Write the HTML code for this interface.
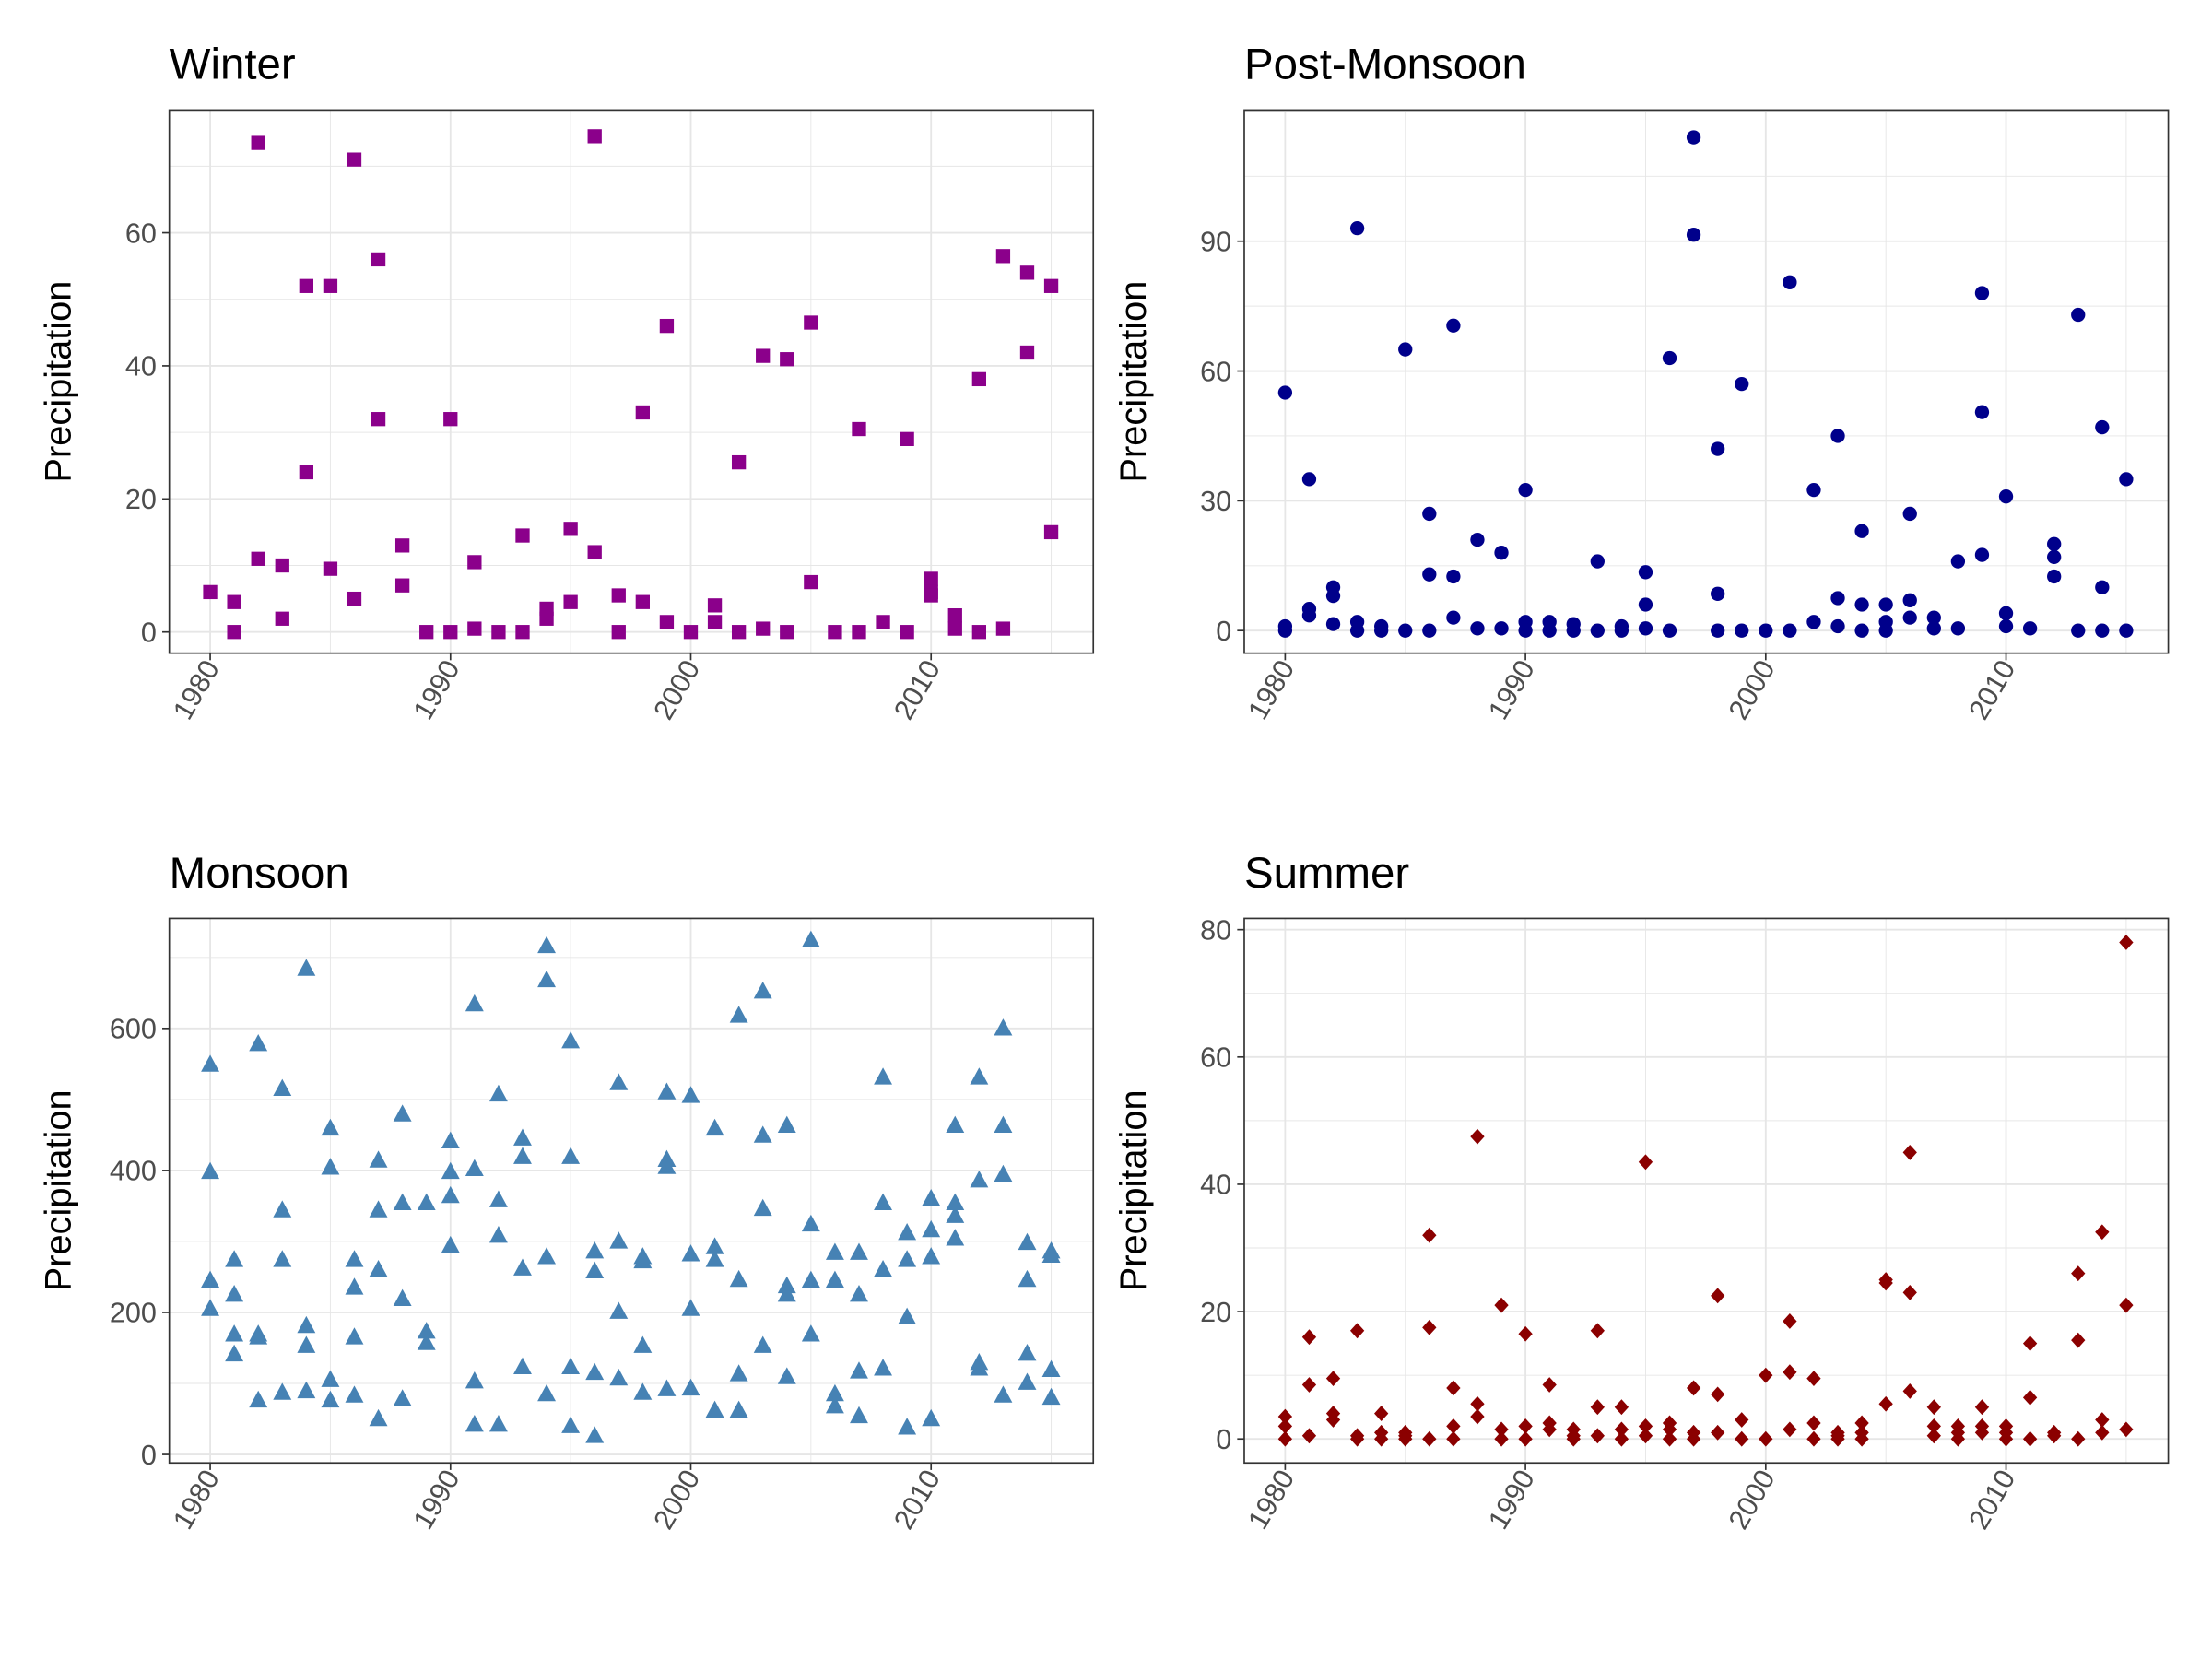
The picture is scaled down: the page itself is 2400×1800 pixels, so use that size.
<!DOCTYPE html>
<html><head><meta charset="utf-8"><style>
html,body{margin:0;padding:0;background:#fff}
svg{display:block}
text{font-family:"Liberation Sans",Arial,sans-serif}
</style></head><body>
<svg id="chart" width="2400" height="1800" viewBox="0 0 1568 1176" preserveAspectRatio="none" xmlns="http://www.w3.org/2000/svg"></svg>
<script>
const years = [];
for (let y = 1980; y <= 2015; y++) years.push(y);

const winterValues = [[6],[4.5,0],[73.5,11],[10,2],[52,24],[52,9.5],[71,5],[56,32],[13,7],[0],[32,0],[10.5,0.5],[0],[14.5,0],[3.5,2],[15.5,4.5],[74.5,12],[5.5,0],[33,4.5],[46,1.5],[0],[4,1.5],[25.5,0],[41.5,0.5],[41,0],[46.5,7.5],[0],[30.5,0],[1.5],[29,0],[8,6,5.5],[2.5,0.5],[38,0],[56.5,0.5],[54,42],[52,15]];
const postMonsoonValues = [[55,1,0],[35,5,3.5],[10,8,1.5],[93,2,0],[1,0],[65,0],[27,13,0],[70.5,12.5,3],[21,0.5],[18,0.5],[32.5,2,0],[2,0],[1.5,0],[16,0],[1,0],[13.5,6,0.5],[63,0],[114,91.5],[42,8.5,0],[57,0],[0],[80.5,0],[32.5,2],[45,7.5,1],[23,6,0],[6,2,0],[27,7,3],[3,0.5],[16,0.5],[78,50.5,17.5],[31,4,1],[0.5],[20,17,12.5],[73,0],[47,10,0],[35,0]];
const monsoonValues = [[549,398,245,205],[274,225,169,141],[578,169,165,76],[515,344,274,87],[684,181,153,89],[459,404,105,76],[274,235,165,83],[414,344,260,50],[479,354,219,78],[354,173,157],[441,398,364,294],[634,402,103,42],[507,358,308,42],[445,419,262,123],[716,668,278,85],[582,419,123,40],[286,258,115,26],[523,300,201,107],[278,272,153,87],[510,415,405,92],[505,282,205,93],[459,292,274,62],[618,246,113,62],[652,449,346,153],[463,237,225,109],[724,324,245,169],[284,245,85,68],[284,225,117,54],[531,354,260,121],[312,274,193,38],[360,316,278,50],[463,354,336,304],[531,386,129,121],[600,463,394,83],[298,246,142,101],[286,280,119,80]];
const summerValues = [[3.5,2,0],[16,8.5,0.5],[9.5,4,3],[17,0.5,0],[4,1,0],[1,0.5,0],[32,17.5,0],[8,2,0],[47.5,5.5,3.5],[21,1.5,0],[16.5,2,0],[8.5,2.5,1.5],[1.5,0.5,0],[17,5,0.5],[5,1.5,0],[43.5,2,0.5],[2.5,1.5,0],[8,1,0],[22.5,7,1],[3,0],[10,0],[18.5,10.5,1.5],[9.5,2.5,0],[1,0.5,0],[2.5,1,0],[25,24.5,5.5],[45,23,7.5],[5,2,0.5],[2,1,0],[5,2,1],[2,1,0],[15,6.5,0],[1,0.5],[26,15.5,0],[32.5,3,1],[78,21,1.5]];

const xTicks = [1980,1990,2000,2010];
const winterTicks = [0,20,40,60];
const postTicks = [0,30,60,90];
const monsoonTicks = [0,200,400,600];
const summerTicks = [0,20,40,60,80];

const NS = "http://www.w3.org/2000/svg";
const svg = document.getElementById('chart');
function mk(tag, attrs, parent){const e=document.createElementNS(NS,tag);for(const k in attrs)e.setAttribute(k,attrs[k]);(parent||svg).appendChild(e);return e;}

const panels = [
 {name:'winter', title:'Winter', x0:120, x1:775, y0:78, y1:463, px0:149, vy0:448, vy1:165, v1:60, ticks:winterTicks, step:20, data:winterValues, shape:'square', color:'#8B008B'},
 {name:'post-monsoon', title:'Post-Monsoon', x0:882, x1:1537, y0:78, y1:463, px0:911, vy0:447, vy1:171, v1:90, ticks:postTicks, step:30, data:postMonsoonValues, shape:'circle', color:'#00008B'},
 {name:'monsoon', title:'Monsoon', x0:120, x1:775, y0:651, y1:1037, px0:149, vy0:1031, vy1:729, v1:600, ticks:monsoonTicks, step:200, data:monsoonValues, shape:'triangle', color:'#4682B4'},
 {name:'summer', title:'Summer', x0:882, x1:1537, y0:651, y1:1037, px0:911, vy0:1020, vy1:659, v1:80, ticks:summerTicks, step:20, data:summerValues, shape:'diamond', color:'#8B0000'}
];

panels.forEach(p=>{
  const g = mk('g',{});
  
  
  const xs = v => p.px0 + (v-1980)*(511/30);
  const ys = v => p.vy0 + v*(p.vy1-p.vy0)/p.v1;
  const grid = mk('g',{},g);
  
  
  const vmin = (p.y1 - p.vy0)/((p.vy1-p.vy0)/p.v1);
  const vmax = (p.y0 - p.vy0)/((p.vy1-p.vy0)/p.v1);
  for (let v = Math.ceil(vmin/(p.step/2))*(p.step/2); v <= vmax; v += p.step/2){
    const major = Math.abs(v/p.step - Math.round(v/p.step))<1e-6;
    const y = ys(v);
    mk('line',{x1:p.x0,x2:p.x1,y1:y,y2:y,stroke:'#e6e6e6','stroke-width':major?1.2:0.6},grid);
  }
  for (let v = 1975; v <= 2020; v += 5){
    const x = xs(v);
    if (x < p.x0 || x > p.x1) continue;
    mk('line',{x1:x,x2:x,y1:p.y0,y2:p.y1,stroke:'#e6e6e6','stroke-width':(v%10===0)?1.2:0.6},grid);
  }
  const border = mk('rect',{x:p.x0,y:p.y0,width:p.x1-p.x0,height:p.y1-p.y0,fill:'none',stroke:'#333','stroke-width':1.1},g);
  
  
  const t = mk('text',{x:p.x0,y:p.y0-22,'font-size':31,fill:'#000'},g);
  t.textContent = p.title;
  
  
  const at = mk('text',{x:0,y:0,'font-size':26,fill:'#000','text-anchor':'middle',transform:`translate(${p.x0-70},${(p.y0+p.y1)/2}) rotate(-90)`},g);
  at.textContent = 'Precipitation';
  
  
  p.ticks.forEach(v=>{
    const y = ys(v);
    mk('line',{x1:p.x0-5,x2:p.x0,y1:y,y2:y,stroke:'#333','stroke-width':1.1},g);
    const tl = mk('text',{x:p.x0-9,y:y+7,'font-size':20,fill:'#4d4d4d','text-anchor':'end'},g);
    tl.textContent = v;
    
    
  });
  xTicks.forEach(v=>{
    const x = xs(v);
    mk('line',{x1:x,x2:x,y1:p.y1,y2:p.y1+5,stroke:'#333','stroke-width':1.1},g);
    const tl = mk('text',{x:0,y:0,'font-size':20,fill:'#4d4d4d','text-anchor':'end',transform:`translate(${x+7},${p.y1+10}) rotate(-60)`},g);
    tl.textContent = v;
    
    
  });
  const pts = mk('g',{fill:p.color},g);
  
  
  p.data.forEach((vals,i)=>{
    vals.forEach(v=>{
      const cx = xs(years[i]), cy = ys(v);
      let e;
      if (p.shape==='square') e = mk('rect',{x:cx-5,y:cy-5,width:10,height:10},pts);
      else if (p.shape==='circle') e = mk('circle',{cx:cx,cy:cy,r:5},pts);
      else if (p.shape==='triangle') e = mk('polygon',{points:`${cx},${cy-7} ${cx-6.5},${cy+5} ${cx+6.5},${cy+5}`},pts);
      else e = mk('polygon',{points:`${cx},${cy-5.5} ${cx+5},${cy} ${cx},${cy+5.5} ${cx-5},${cy}`},pts);
      
      
    });
  });
});
</script>
</body></html>
